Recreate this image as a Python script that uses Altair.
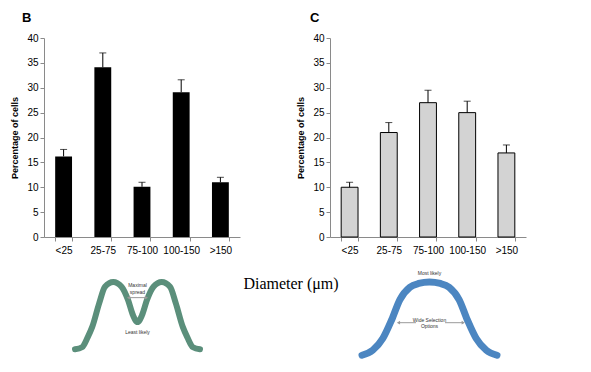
import altair as alt
import pandas as pd

# ---------------- data ----------------
categories = ["<25", "25-75", "75-100", "100-150", ">150"]
b_values = [16.2, 34.1, 10.1, 29.1, 11.0]
b_upper = [17.6, 37.0, 11.0, 31.6, 12.0]
c_values = [10.0, 21.0, 27.0, 25.0, 16.9]
c_upper = [11.0, 23.0, 29.5, 27.3, 18.5]
y_ticks = [0, 5, 10, 15, 20, 25, 30, 35, 40]

panel_labels = ["B", "C"]
x_title = ["Diameter (μm)"]
y_title = "Percentage of cells"

# schematic distributions (diameter units 0-100, relative likelihood 0-1)
bimodal_x = [0, 5.5, 10, 13.5, 19, 23.5, 30, 36.5, 41.5, 45.5, 49,
             52.5, 56.5, 61.5, 68, 74.5, 79, 84.5, 88, 92.5, 98]
bimodal_y = [0.01, 0.04, 0.19, 0.34, 0.69, 0.93, 1.0, 0.93, 0.74, 0.51, 0.41,
             0.51, 0.74, 0.93, 1.0, 0.93, 0.69, 0.34, 0.19, 0.04, 0.01]
unimodal_x = [0, 8, 15.5, 22, 28, 35.5, 42, 50, 58, 64.5, 72, 78, 84.5, 92, 100]
unimodal_y = [0.01, 0.08, 0.24, 0.49, 0.76, 0.93, 0.98, 1.0, 0.98, 0.93, 0.76,
              0.49, 0.24, 0.08, 0.01]

bimodal_notes = ["Maximal", "spread", "Least likely"]
bimodal_note_x = [49, 49, 49]
bimodal_note_y = [0.95, 0.86, 0.27]
bimodal_arrow = [42, 56]          # start/end of arrow (diameter units)
bimodal_arrow_y = [0.77]

unimodal_notes = ["Most likely", "Wide Selection", "Options"]
unimodal_note_x = [50, 50, 50]
unimodal_note_y = [1.12, 0.49, 0.41]
unimodal_arrow_left = [27, 40]
unimodal_arrow_right = [61.5, 75]
unimodal_arrow_y = [0.45]

# ---------------- layout / style ----------------
FONT = "Liberation Sans"
W, H = 483, 199
B_RANGE = [0, 196]
C_RANGE = [286, 482]
AXIS_GRAY = "#8a8a8a"


def bar_panel(values, upper, xrange, fill, stroke, axis_offset):
    df = pd.DataFrame({"cat": categories, "value": values, "upper": upper})
    xs = alt.Scale(domain=categories, range=xrange, paddingInner=0.57, paddingOuter=0.285)
    ys = alt.Scale(domain=[0, 40], nice=False)
    xa = alt.Axis(orient="bottom", title=None, labelAngle=0, tickBand="extent",
                  tickSize=4, labelPadding=4, labelFontSize=10, labelFont=FONT,
                  labelColor="black", domainColor=AXIS_GRAY, tickColor=AXIS_GRAY,
                  grid=False)
    ya = alt.Axis(orient="left", offset=axis_offset, values=y_ticks, title=y_title,
                  titleFont=FONT, titleFontSize=9, titleFontWeight="bold",
                  titleColor="black", titlePadding=7, labelFontSize=10,
                  labelFont=FONT, labelColor="black", labelPadding=2, tickSize=4,
                  domainColor=AXIS_GRAY, tickColor=AXIS_GRAY, grid=False)
    X = alt.X("cat:N", scale=xs, axis=xa, sort=categories)
    base = alt.Chart(df)
    bar_kwargs = dict(fill=fill)
    if stroke:
        bar_kwargs.update(stroke=stroke, strokeWidth=1)
    bars = base.mark_bar(**bar_kwargs).encode(
        x=X, y=alt.Y("value:Q", scale=ys, axis=ya))
    err = base.mark_rule(color="black", strokeWidth=1).encode(
        x=X, y=alt.Y("value:Q", scale=ys, axis=ya), y2="upper:Q")
    cap = base.mark_tick(color="black", size=7, thickness=1).encode(
        x=X, y=alt.Y("upper:Q", scale=ys, axis=ya))
    return alt.layer(bars, err, cap)


panel_b = bar_panel(b_values, b_upper, B_RANGE, "black", None, 0)
panel_c = bar_panel(c_values, c_upper, C_RANGE, "#d3d3d3", "black", -286)


def curve(xv, yv, xdom, xrange, yrange, color, width, notes, nx, ny, arrows, ay):
    xs = alt.Scale(domain=xdom, range=xrange, nice=False, zero=False)
    ys = alt.Scale(domain=[0, 1], range=yrange, nice=False, zero=False)
    line = alt.Chart(pd.DataFrame({"x": xv, "y": yv})).mark_line(
        interpolate="monotone", color=color, strokeWidth=width, strokeCap="round"
    ).encode(x=alt.X("x:Q", scale=xs, axis=None), y=alt.Y("y:Q", scale=ys, axis=None))
    layers = [line]
    for a in arrows:
        adf = pd.DataFrame({"x": [a[0]], "x2": [a[1]], "y": ay})
        layers.append(alt.Chart(adf).mark_rule(color="#9a9a9a", strokeWidth=1).encode(
            x=alt.X("x:Q", scale=xs, axis=None), x2="x2:Q",
            y=alt.Y("y:Q", scale=ys, axis=None)))
    heads = []
    for a in arrows:
        heads.append((a[0], "triangle-left"))
        heads.append((a[1], "triangle-right"))
    hdf = pd.DataFrame({"x": [h[0] for h in heads], "shape": [h[1] for h in heads],
                        "y": ay * len(heads)})
    if notes[0] == "Most likely":
        hdf = hdf[[0, 3]] if False else hdf.iloc[[0, 3]]
    layers.append(alt.Chart(hdf).mark_point(filled=True, color="#9a9a9a", size=14, opacity=1).encode(
        x=alt.X("x:Q", scale=xs, axis=None), y=alt.Y("y:Q", scale=ys, axis=None),
        shape=alt.Shape("shape:N", scale=None)))
    ndf = pd.DataFrame({"t": notes, "x": nx, "y": ny})
    layers.append(alt.Chart(ndf).mark_text(font=FONT, fontSize=5, color="#333333").encode(
        x=alt.X("x:Q", scale=xs, axis=None), y=alt.Y("y:Q", scale=ys, axis=None), text="t:N"))
    return alt.layer(*layers)


curve_b = curve(bimodal_x, bimodal_y, [0, 98], [31, 156], [312, 244], "#5b8f7b", 6,
                bimodal_notes, bimodal_note_x, bimodal_note_y, [bimodal_arrow], bimodal_arrow_y)
curve_c = curve(unimodal_x, unimodal_y, [0, 100], [318, 453], [318, 244], "#4c86c1", 7,
                unimodal_notes, unimodal_note_x, unimodal_note_y,
                [unimodal_arrow_left, unimodal_arrow_right], unimodal_arrow_y)

lab_b = alt.Chart(pd.DataFrame({"t": [panel_labels[0]]})).mark_text(
    font=FONT, fontSize=13, fontWeight="bold", align="left", baseline="alphabetic"
).encode(x=alt.value(-22), y=alt.value(-16), text="t:N")
lab_c = alt.Chart(pd.DataFrame({"t": [panel_labels[1]]})).mark_text(
    font=FONT, fontSize=13, fontWeight="bold", align="left", baseline="alphabetic"
).encode(x=alt.value(266), y=alt.value(-16), text="t:N")
xlab = alt.Chart(pd.DataFrame({"t": x_title})).mark_text(
    font="Liberation Serif", fontSize=16, align="center", baseline="alphabetic", color="black"
).encode(x=alt.value(247), y=alt.value(251), text="t:N")

chart = alt.layer(panel_b, panel_c, curve_b, curve_c, lab_b, lab_c, xlab).resolve_scale(
    x="independent", y="independent", shape="independent"
).properties(
    width=W, height=H,
    autosize=alt.AutoSizeParams(type="none"),
    padding={"left": 36, "top": 30, "right": 50, "bottom": 123},
).configure_view(stroke=None)

chart.save("out.html", embed_options={"renderer": "svg", "actions": False})
